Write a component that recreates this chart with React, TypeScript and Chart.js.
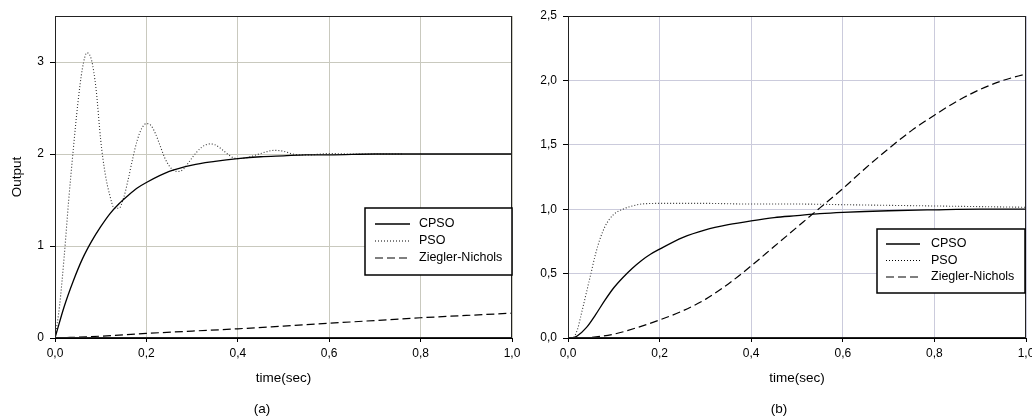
import React, { useEffect, useRef } from "react";
import { Chart, registerables } from "chart.js";

Chart.register(...registerables);

// ---------- Data ----------
// Panel (a)
const timeA_CPSO = [0, 0.02, 0.04, 0.06, 0.08, 0.1, 0.12, 0.14, 0.16, 0.18, 0.2, 0.25, 0.3, 0.35, 0.4, 0.45, 0.5, 0.55, 0.6, 0.7, 0.8, 0.9, 1.0];
const outA_CPSO = [0, 0.34, 0.62, 0.86, 1.05, 1.21, 1.35, 1.46, 1.55, 1.63, 1.69, 1.81, 1.88, 1.92, 1.95, 1.97, 1.98, 1.99, 1.99, 2.0, 2.0, 2.0, 2.0];

const timeA_PSO = [0, 0.01, 0.02, 0.03, 0.04, 0.05, 0.06, 0.07, 0.08, 0.09, 0.1, 0.11, 0.12, 0.13, 0.14, 0.15, 0.16, 0.17, 0.18, 0.19, 0.2, 0.21, 0.22, 0.23, 0.24, 0.25, 0.26, 0.27, 0.28, 0.29, 0.3, 0.31, 0.32, 0.33, 0.34, 0.35, 0.36, 0.37, 0.38, 0.39, 0.4, 0.42, 0.44, 0.46, 0.48, 0.5, 0.52, 0.54, 0.56, 0.58, 0.6, 0.65, 0.7, 0.76];
const outA_PSO = [0, 0.35, 0.88, 1.5, 2.05, 2.55, 2.93, 3.1, 3.02, 2.7, 2.15, 1.78, 1.55, 1.41, 1.41, 1.52, 1.72, 1.95, 2.15, 2.28, 2.33, 2.31, 2.22, 2.09, 1.96, 1.87, 1.82, 1.81, 1.83, 1.89, 1.96, 2.02, 2.07, 2.1, 2.11, 2.1, 2.07, 2.03, 1.99, 1.96, 1.95, 1.96, 1.99, 2.02, 2.04, 2.03, 2.0, 1.99, 1.99, 2.0, 2.005, 2.0, 2.0, 2.0];

const timeA_ZN = [0, 0.1, 0.2, 0.3, 0.4, 0.5, 0.6, 0.7, 0.8, 0.9, 1.0];
const outA_ZN = [0, 0.02, 0.05, 0.075, 0.1, 0.13, 0.16, 0.19, 0.22, 0.245, 0.27];

// Panel (b)
const timeB_CPSO = [0, 0.01, 0.02, 0.04, 0.06, 0.08, 0.1, 0.12, 0.14, 0.16, 0.18, 0.2, 0.25, 0.3, 0.35, 0.4, 0.45, 0.5, 0.55, 0.6, 0.7, 0.8, 0.9, 1.0];
const outB_CPSO = [0, 0, 0.015, 0.08, 0.18, 0.29, 0.39, 0.47, 0.54, 0.6, 0.65, 0.69, 0.78, 0.84, 0.88, 0.91, 0.935, 0.95, 0.965, 0.975, 0.988, 0.995, 1.0, 1.0];

const timeB_PSO = [0, 0.01, 0.02, 0.03, 0.04, 0.05, 0.06, 0.07, 0.08, 0.09, 0.1, 0.11, 0.12, 0.13, 0.14, 0.16, 0.2, 0.3, 0.4, 0.5, 0.6, 0.7, 0.8, 0.9, 1.0];
const outB_PSO = [0, 0, 0.06, 0.2, 0.35, 0.5, 0.65, 0.77, 0.86, 0.92, 0.96, 0.985, 1.0, 1.015, 1.025, 1.04, 1.045, 1.045, 1.04, 1.04, 1.035, 1.03, 1.025, 1.02, 1.015];

const timeB_ZN = [0, 0.05, 0.1, 0.15, 0.2, 0.25, 0.3, 0.35, 0.4, 0.45, 0.5, 0.55, 0.6, 0.65, 0.7, 0.75, 0.8, 0.85, 0.9, 0.95, 1.0];
const outB_ZN = [0, 0.005, 0.03, 0.08, 0.14, 0.21, 0.3, 0.42, 0.56, 0.71, 0.86, 1.01, 1.16, 1.32, 1.47, 1.61, 1.73, 1.84, 1.93, 2.0, 2.05];

const seriesNames = ["CPSO", "PSO", "Ziegler-Nichols"];
const xAxisTitle = "time(sec)";
const yAxisTitleA = "Output";
const captionA = "(a)";
const captionB = "(b)";
const xMin = 0, xMax = 1.0, xStep = 0.2;
const yMaxA = 3.5, yStepA = 1, yTickMaxA = 3;
const yMaxB = 2.5, yStepB = 0.5;

// ---------- Styles ----------
const FONT = "'Liberation Sans', Arial, sans-serif";
const dashStyles: number[][] = [[], [1, 2], [8, 4]];
const widths = [1.3, 1.1, 1.2];

const pts = (xs: number[], ys: number[]) => xs.map((x, i) => ({ x, y: ys[i] }));
const comma1 = (v: number) => Number(v).toFixed(1).replace(".", ",");

const decorPlugin = {
  id: "decor",
  afterDatasetsDraw(chart: any, _args: any, opts: any) {
    const { ctx, chartArea } = chart;
    ctx.save();
    // frame
    ctx.strokeStyle = "#222";
    ctx.lineWidth = 1;
    ctx.setLineDash([]);
    ctx.strokeRect(Math.round(chartArea.left) + 0.5, Math.round(chartArea.top) + 0.5, Math.round(chartArea.right - chartArea.left) - 1, Math.round(chartArea.bottom - chartArea.top) - 1);
    // legend
    const L = opts.legend;
    ctx.fillStyle = "#fff";
    ctx.fillRect(L.x, L.y, L.w, L.h);
    ctx.strokeStyle = "#000";
    ctx.lineWidth = 1.5;
    ctx.strokeRect(L.x, L.y, L.w, L.h);
    ctx.font = `12.5px ${FONT}`;
    ctx.textBaseline = "middle";
    ctx.textAlign = "left";
    chart.data.datasets.forEach((ds: any, i: number) => {
      const yy = L.y + L.firstRow + i * L.rowGap;
      ctx.beginPath();
      ctx.setLineDash(dashStyles[i]);
      ctx.lineWidth = widths[i];
      ctx.strokeStyle = "#000";
      ctx.moveTo(L.x + L.lineX0, yy);
      ctx.lineTo(L.x + L.lineX1, yy);
      ctx.stroke();
      ctx.setLineDash([]);
      ctx.fillStyle = "#000";
      ctx.fillText(ds.label, L.x + L.textX, yy);
    });
    ctx.restore();
  },
  afterDraw(chart: any, _args: any, opts: any) {
    const { ctx } = chart;
    ctx.save();
    ctx.font = `13.5px ${FONT}`;
    ctx.fillStyle = "#000";
    ctx.textAlign = "center";
    ctx.textBaseline = "middle";
    ctx.fillText(opts.caption, opts.captionX, opts.captionY);
    ctx.restore();
  },
};

function makeConfig(p: {
  data: { x: number; y: number }[][];
  padLeft: number;
  padRight: number;
  yMax: number;
  yStep: number;
  yTickMax: number;
  yFmt: (v: number) => string;
  yTitle: string | null;
  gridColor: string;
  legend: any;
  caption: string;
  captionX: number;
}): any {
  return {
    type: "line",
    data: {
      datasets: p.data.map((d, i) => ({
        label: seriesNames[i],
        data: d,
        borderColor: i === 1 ? "#333" : "#000",
        borderWidth: widths[i],
        borderDash: dashStyles[i],
        pointRadius: 0,
        fill: false,
        cubicInterpolationMode: "monotone",
      })),
    },
    options: {
      responsive: false,
      animation: false,
      events: [],
      layout: { padding: { left: p.padLeft, right: p.padRight, top: 16, bottom: 0 } },
      plugins: {
        legend: { display: false },
        tooltip: { enabled: false },
        decor: { legend: p.legend, caption: p.caption, captionX: p.captionX, captionY: 409 },
      },
      scales: {
        x: {
          type: "linear",
          min: xMin,
          max: xMax,
          ticks: {
            stepSize: xStep,
            color: "#000",
            padding: 4,
            font: { family: FONT, size: 12 },
            callback: (v: number) => comma1(v),
          },
          grid: { color: p.gridColor, lineWidth: 1, tickColor: "#000", tickLength: 4, drawTicks: true },
          border: { display: true, color: "#000", width: 1 },
          title: {
            display: true,
            text: xAxisTitle,
            color: "#000",
            font: { family: FONT, size: 13.5 },
            padding: { top: 0, bottom: 32 },
          },
          afterFit: (s: any) => {
            s.height = 80;
            s.paddingLeft = 0;
            s.paddingRight = 0;
          },
        },
        y: {
          type: "linear",
          min: 0,
          max: p.yMax,
          ticks: {
            stepSize: p.yStep,
            color: "#000",
            padding: 6,
            font: { family: FONT, size: 12 },
            callback: (v: number) => p.yFmt(v),
          },
          afterBuildTicks: (s: any) => {
            s.ticks = s.ticks.filter((t: any) => t.value <= p.yTickMax + 1e-9);
          },
          grid: { color: p.gridColor, lineWidth: 1, tickColor: "#000", tickLength: 5, drawTicks: true },
          border: { display: true, color: "#000", width: 1 },
          title: {
            display: !!p.yTitle,
            text: p.yTitle || "",
            color: "#000",
            font: { family: FONT, size: 13.5 },
            padding: { top: 9, bottom: 0 },
          },
          afterFit: (s: any) => {
            s.width = 55;
            s.paddingTop = 0;
            s.paddingBottom = 0;
          },
        },
      },
    },
    plugins: [decorPlugin],
  };
}

export default function App() {
  const leftRef = useRef<HTMLCanvasElement>(null);
  const rightRef = useRef<HTMLCanvasElement>(null);

  useEffect(() => {
    const a = new Chart(
      leftRef.current as HTMLCanvasElement,
      makeConfig({
        data: [pts(timeA_CPSO, outA_CPSO), pts(timeA_PSO, outA_PSO), pts(timeA_ZN, outA_ZN)],
        padLeft: 0,
        padRight: 520,
        yMax: yMaxA,
        yStep: yStepA,
        yTickMax: yTickMaxA,
        yFmt: (v) => String(Math.round(v)),
        yTitle: yAxisTitleA,
        gridColor: "#c9c9be",
        legend: { x: 365, y: 208, w: 147, h: 67, firstRow: 16, rowGap: 17, lineX0: 10, lineX1: 45, textX: 54 },
        caption: captionA,
        captionX: 262,
      })
    );
    const b = new Chart(
      rightRef.current as HTMLCanvasElement,
      makeConfig({
        data: [pts(timeB_CPSO, outB_CPSO), pts(timeB_PSO, outB_PSO), pts(timeB_ZN, outB_ZN)],
        padLeft: 513,
        padRight: 6,
        yMax: yMaxB,
        yStep: yStepB,
        yTickMax: yMaxB,
        yFmt: comma1,
        yTitle: null,
        gridColor: "#cbcbdc",
        legend: { x: 877, y: 229, w: 148, h: 64, firstRow: 15, rowGap: 16.5, lineX0: 9, lineX1: 43, textX: 54 },
        caption: captionB,
        captionX: 779,
      })
    );
    return () => {
      a.destroy();
      b.destroy();
    };
  }, []);

  return (
    <div style={{ position: "fixed", left: 0, top: 0, width: 1032, height: 418, background: "#fff" }}>
      <canvas ref={leftRef} width={1032} height={418} style={{ position: "absolute", left: 0, top: 0 }} />
      <canvas ref={rightRef} width={1032} height={418} style={{ position: "absolute", left: 0, top: 0 }} />
    </div>
  );
}
